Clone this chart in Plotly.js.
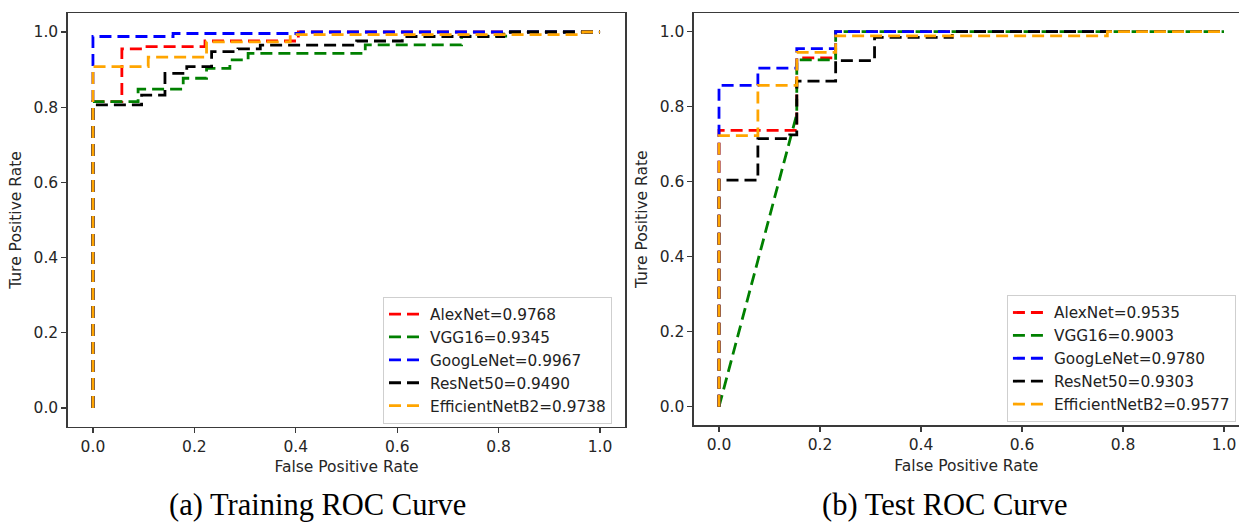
<!DOCTYPE html>
<html>
<head>
<meta charset="utf-8">
<script src="https://cdn.plot.ly/plotly-3.0.1.min.js"></script>
<style>html,body{margin:0;padding:0;background:#fff;}#chart{width:1239px;height:525px;}</style>
</head>
<body>
<div id="chart"></div>
<script>
// ---------- Data ----------
const models = ["AlexNet", "VGG16", "GoogLeNet", "ResNet50", "EfficientNetB2"];
const colors = ["red", "green", "blue", "black", "orange"];
const trainAUC = ["0.9768", "0.9345", "0.9967", "0.9490", "0.9738"];
const testAUC  = ["0.9535", "0.9003", "0.9780", "0.9303", "0.9577"];
const tickVals = [0, 0.2, 0.4, 0.6, 0.8, 1.0];

// Training ROC
const trainAlexFPR = [0, 0, 0.057, 0.057, 0.103, 0.103, 0.221, 0.221, 0.405, 0.405, 1];
const trainAlexTPR = [0, 0.815, 0.815, 0.955, 0.955, 0.961, 0.961, 0.976, 0.976, 1, 1];
const trainVggFPR = [0, 0, 0.089, 0.089, 0.178, 0.178, 0.224, 0.224, 0.27, 0.27, 0.306, 0.306, 0.537, 0.537, 0.727, 0.727, 0.82, 0.82, 1];
const trainVggTPR = [0, 0.815, 0.815, 0.848, 0.848, 0.877, 0.877, 0.903, 0.903, 0.926, 0.926, 0.943, 0.943, 0.966, 0.966, 0.989, 0.989, 1, 1];
const trainGoogFPR = [0, 0, 0.158, 0.158, 0.41, 0.41, 1];
const trainGoogTPR = [0, 0.988, 0.988, 0.996, 0.996, 1, 1];
const trainResFPR = [0, 0, 0.096, 0.096, 0.142, 0.142, 0.185, 0.185, 0.234, 0.234, 0.286, 0.286, 0.33, 0.33, 0.52, 0.52, 0.61, 0.61, 0.81, 0.81, 1];
const trainResTPR = [0, 0.806, 0.806, 0.832, 0.832, 0.89, 0.89, 0.908, 0.908, 0.948, 0.948, 0.955, 0.955, 0.965, 0.965, 0.976, 0.976, 0.988, 0.988, 1, 1];
const trainEffFPR = [0, 0, 0.109, 0.109, 0.224, 0.224, 0.389, 0.389, 0.966, 0.966, 1];
const trainEffTPR = [0, 0.908, 0.908, 0.933, 0.933, 0.974, 0.974, 0.993, 0.993, 1, 1];

// Test ROC
const testAlexFPR = [0, 0, 0.154, 0.154, 0.231, 0.231, 1];
const testAlexTPR = [0, 0.737, 0.737, 0.93, 0.93, 1, 1];
const testVggFPR = [0, 0.154, 0.154, 0.231, 0.231, 1];
const testVggTPR = [0, 0.78, 0.925, 0.925, 1, 1];
const testGoogFPR = [0, 0, 0.077, 0.077, 0.154, 0.154, 0.231, 0.231, 1];
const testGoogTPR = [0, 0.857, 0.857, 0.903, 0.903, 0.955, 0.955, 1, 1];
const testResFPR = [0, 0, 0.077, 0.077, 0.14, 0.14, 0.154, 0.154, 0.231, 0.231, 0.308, 0.308, 0.462, 0.462, 1];
const testResTPR = [0, 0.604, 0.604, 0.715, 0.715, 0.725, 0.725, 0.868, 0.868, 0.923, 0.923, 0.985, 0.985, 1, 1];
const testEffFPR = [0, 0, 0.077, 0.077, 0.154, 0.154, 0.231, 0.231, 0.769, 0.769, 1];
const testEffTPR = [0, 0.723, 0.723, 0.857, 0.857, 0.945, 0.945, 0.989, 0.989, 1, 1];

const trainX = [trainAlexFPR, trainVggFPR, trainGoogFPR, trainResFPR, trainEffFPR];
const trainY = [trainAlexTPR, trainVggTPR, trainGoogTPR, trainResTPR, trainEffTPR];
const testX = [testAlexFPR, testVggFPR, testGoogFPR, testResFPR, testEffFPR];
const testY = [testAlexTPR, testVggTPR, testGoogTPR, testResTPR, testEffTPR];

// ---------- Traces ----------
const traces = [];
models.forEach((m, i) => {
  traces.push({
    type: 'scatter', mode: 'lines', x: trainX[i], y: trainY[i],
    name: m + '=' + trainAUC[i], xaxis: 'x', yaxis: 'y', legend: 'legend',
    legendgroup: 'tr' + i,
    line: {color: colors[i], width: 2.8, dash: '12px,6px'}, hoverinfo: 'skip'
  });
});
models.forEach((m, i) => {
  traces.push({
    type: 'scatter', mode: 'lines', x: testX[i], y: testY[i],
    name: m + '=' + testAUC[i], xaxis: 'x2', yaxis: 'y2', legend: 'legend2',
    legendgroup: 'te' + i,
    line: {color: colors[i], width: 2.8, dash: '12px,6px'}, hoverinfo: 'skip'
  });
});

// ---------- Layout ----------
const tickFont = {family: 'DejaVu Sans', size: 15.5, color: '#262626'};
const titleFont = {family: 'DejaVu Sans', size: 15.5, color: '#262626'};
function axis(extra) {
  return Object.assign({
    showline: true, linecolor: '#3a3a3a', linewidth: 1.3, mirror: true,
    ticks: 'outside', ticklen: 5, tickwidth: 1.3, tickcolor: '#3a3a3a',
    showgrid: false, zeroline: false, tickvals: tickVals, tickformat: '.1f',
    tickfont: tickFont, automargin: false, fixedrange: true
  }, extra);
}
const legendBase = {
  xanchor: 'left', yanchor: 'top', bgcolor: 'rgba(255,255,255,0.85)',
  bordercolor: '#cfcfcf', borderwidth: 1,
  font: {family: 'DejaVu Sans', size: 15.3, color: '#222'},
  traceorder: 'grouped', tracegroupgap: 0, itemwidth: 36
};
const layout = {
  width: 1239, height: 525,
  margin: {l: 0, r: 0, t: 0, b: 0},
  paper_bgcolor: 'white', plot_bgcolor: 'white',
  showlegend: true,
  xaxis: axis({domain: [0.05456, 0.50476], range: [-0.05, 1.05], anchor: 'y',
    title: {text: 'False Positive Rate', font: titleFont, standoff: 6}}),
  yaxis: axis({domain: [0.18705, 0.97486], range: [-0.05, 1.05], anchor: 'x',
    title: {text: 'Ture Positive Rate', font: titleFont, standoff: 8}}),
  xaxis2: axis({domain: [0.55993, 1], range: [-0.05, 1.0297], anchor: 'y2',
    title: {text: 'False Positive Rate', font: titleFont, standoff: 6}}),
  yaxis2: axis({domain: [0.18962, 0.97533], range: [-0.05, 1.05], anchor: 'x2', mirror: false,
    title: {text: 'Ture Positive Rate', font: titleFont, standoff: 8}}),
  legend: Object.assign({x: 0.3091, y: 0.4350}, legendBase),
  legend2: Object.assign({x: 0.8127, y: 0.4380}, legendBase),
  annotations: [
    {text: '(a) Training ROC Curve', xref: 'paper', yref: 'paper', x: 0.2559, y: 0.0381,
     xanchor: 'center', yanchor: 'middle', showarrow: false,
     font: {family: 'Liberation Serif', size: 30.5, color: '#000'}},
    {text: '(b) Test ROC Curve', xref: 'paper', yref: 'paper', x: 0.7631, y: 0.0381,
     xanchor: 'center', yanchor: 'middle', showarrow: false,
     font: {family: 'Liberation Serif', size: 30.5, color: '#000'}}
  ]
};

Plotly.newPlot('chart', traces, layout, {staticPlot: true, displayModeBar: false});
</script>
</body>
</html>
